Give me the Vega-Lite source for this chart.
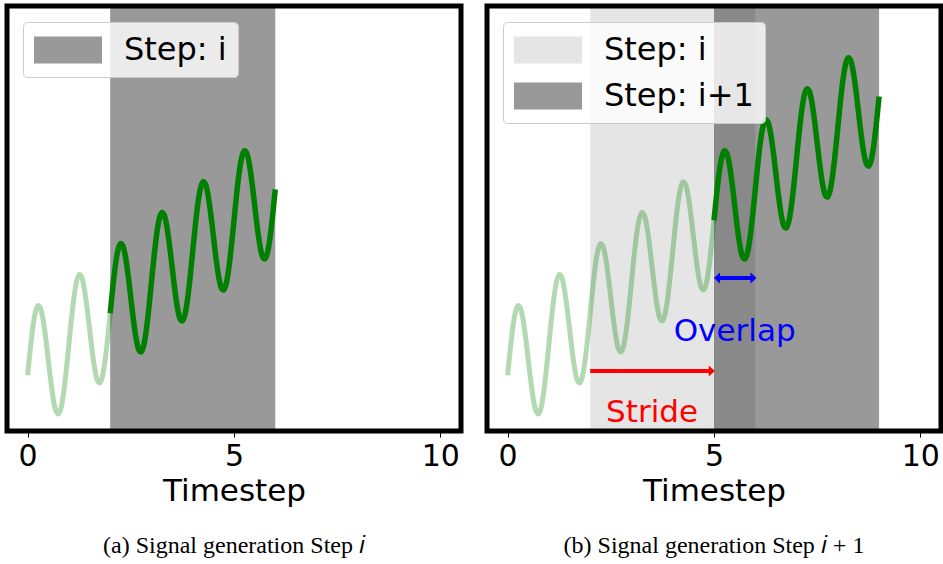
{
  "$schema": "https://vega.github.io/schema/vega-lite/v6.json",
  "background": "white",
  "padding": {"left": 4, "top": 3, "right": 0, "bottom": 0},
  "spacing": 20,
  "datasets": {
    "sig": [
      {"t":0,"y":0},{"t":0.0625,"y":0.414},{"t":0.125,"y":0.770},{"t":0.1875,"y":1.018},{"t":0.25,"y":1.125},{"t":0.3125,"y":1.080},{"t":0.375,"y":0.895},{"t":0.4375,"y":0.601},{"t":0.5,"y":0.25},{"t":0.5625,"y":-0.101},{"t":0.625,"y":-0.395},{"t":0.6875,"y":-0.580},{"t":0.75,"y":-0.625},{"t":0.8125,"y":-0.518},{"t":0.875,"y":-0.270},{"t":0.9375,"y":0.086},
      {"t":1,"y":0.5},{"t":1.0625,"y":0.914},{"t":1.125,"y":1.270},{"t":1.1875,"y":1.518},{"t":1.25,"y":1.625},{"t":1.3125,"y":1.580},{"t":1.375,"y":1.395},{"t":1.4375,"y":1.101},{"t":1.5,"y":0.75},{"t":1.5625,"y":0.399},{"t":1.625,"y":0.105},{"t":1.6875,"y":-0.080},{"t":1.75,"y":-0.125},{"t":1.8125,"y":-0.018},{"t":1.875,"y":0.230},{"t":1.9375,"y":0.586},
      {"t":2,"y":1},{"t":2.0625,"y":1.414},{"t":2.125,"y":1.770},{"t":2.1875,"y":2.018},{"t":2.25,"y":2.125},{"t":2.3125,"y":2.080},{"t":2.375,"y":1.895},{"t":2.4375,"y":1.601},{"t":2.5,"y":1.25},{"t":2.5625,"y":0.899},{"t":2.625,"y":0.605},{"t":2.6875,"y":0.420},{"t":2.75,"y":0.375},{"t":2.8125,"y":0.482},{"t":2.875,"y":0.730},{"t":2.9375,"y":1.086},
      {"t":3,"y":1.5},{"t":3.0625,"y":1.914},{"t":3.125,"y":2.270},{"t":3.1875,"y":2.518},{"t":3.25,"y":2.625},{"t":3.3125,"y":2.580},{"t":3.375,"y":2.395},{"t":3.4375,"y":2.101},{"t":3.5,"y":1.75},{"t":3.5625,"y":1.399},{"t":3.625,"y":1.105},{"t":3.6875,"y":0.920},{"t":3.75,"y":0.875},{"t":3.8125,"y":0.982},{"t":3.875,"y":1.230},{"t":3.9375,"y":1.586},
      {"t":4,"y":2},{"t":4.0625,"y":2.414},{"t":4.125,"y":2.770},{"t":4.1875,"y":3.018},{"t":4.25,"y":3.125},{"t":4.3125,"y":3.080},{"t":4.375,"y":2.895},{"t":4.4375,"y":2.601},{"t":4.5,"y":2.25},{"t":4.5625,"y":1.899},{"t":4.625,"y":1.605},{"t":4.6875,"y":1.420},{"t":4.75,"y":1.375},{"t":4.8125,"y":1.482},{"t":4.875,"y":1.730},{"t":4.9375,"y":2.086},
      {"t":5,"y":2.5},{"t":5.0625,"y":2.914},{"t":5.125,"y":3.270},{"t":5.1875,"y":3.518},{"t":5.25,"y":3.625},{"t":5.3125,"y":3.580},{"t":5.375,"y":3.395},{"t":5.4375,"y":3.101},{"t":5.5,"y":2.75},{"t":5.5625,"y":2.399},{"t":5.625,"y":2.105},{"t":5.6875,"y":1.920},{"t":5.75,"y":1.875},{"t":5.8125,"y":1.982},{"t":5.875,"y":2.230},{"t":5.9375,"y":2.586},
      {"t":6,"y":3},{"t":6.0625,"y":3.414},{"t":6.125,"y":3.770},{"t":6.1875,"y":4.018},{"t":6.25,"y":4.125},{"t":6.3125,"y":4.080},{"t":6.375,"y":3.895},{"t":6.4375,"y":3.601},{"t":6.5,"y":3.25},{"t":6.5625,"y":2.899},{"t":6.625,"y":2.605},{"t":6.6875,"y":2.420},{"t":6.75,"y":2.375},{"t":6.8125,"y":2.482},{"t":6.875,"y":2.730},{"t":6.9375,"y":3.086},
      {"t":7,"y":3.5},{"t":7.0625,"y":3.914},{"t":7.125,"y":4.270},{"t":7.1875,"y":4.518},{"t":7.25,"y":4.625},{"t":7.3125,"y":4.580},{"t":7.375,"y":4.395},{"t":7.4375,"y":4.101},{"t":7.5,"y":3.75},{"t":7.5625,"y":3.399},{"t":7.625,"y":3.105},{"t":7.6875,"y":2.920},{"t":7.75,"y":2.875},{"t":7.8125,"y":2.982},{"t":7.875,"y":3.230},{"t":7.9375,"y":3.586},
      {"t":8,"y":4},{"t":8.0625,"y":4.414},{"t":8.125,"y":4.770},{"t":8.1875,"y":5.018},{"t":8.25,"y":5.125},{"t":8.3125,"y":5.080},{"t":8.375,"y":4.895},{"t":8.4375,"y":4.601},{"t":8.5,"y":4.25},{"t":8.5625,"y":3.899},{"t":8.625,"y":3.605},{"t":8.6875,"y":3.420},{"t":8.75,"y":3.375},{"t":8.8125,"y":3.482},{"t":8.875,"y":3.730},{"t":8.9375,"y":4.086},
      {"t":9,"y":4.5}
    ]
  },
  "config": {
    "view": {"stroke": "black", "strokeWidth": 5},
    "axisX": {
      "labelFont": "DejaVu Sans", "labelFontSize": 30, "labelColor": "black", "labelPadding": 4,
      "labelFlush": false, "labelOverlap": false, "labelBound": false,
      "tickSize": 6, "tickColor": "black", "tickWidth": 1,
      "domain": false, "grid": false,
      "titleFont": "DejaVu Sans", "titleFontSize": 31, "titleFontWeight": "normal", "titleColor": "black", "titlePadding": 5
    },
    "legend": {
      "orient": "top-left", "offset": 16, "padding": 11,
      "fillColor": "rgba(255,255,255,0.8)", "strokeColor": "#cccccc", "cornerRadius": 4,
      "labelFont": "DejaVu Sans", "labelFontSize": 32, "labelColor": "black", "labelOffset": 56,
      "symbolSize": 1156, "symbolStrokeWidth": 0, "rowPadding": 13, "labelLimit": 400
    },
    "title": {"font": "Liberation Serif", "fontSize": 24, "fontWeight": "normal", "color": "black", "orient": "bottom", "anchor": "middle", "offset": 28}
  },
  "resolve": {"scale": {"color": "independent"}, "legend": {"color": "independent"}},
  "hconcat": [
    {
      "width": 454, "height": 425,
      "title": {"text": "(a) Signal generation Step 𝑖"},
      "layer": [
        {
          "data": {"values": [{"x": 2, "x2": 6, "step": "Step: i"}]},
          "mark": {"type": "rect"},
          "encoding": {
            "x": {"field": "x", "type": "quantitative", "scale": {"domain": [-0.5, 10.5], "nice": false, "zero": false}, "title": "Timestep", "axis": {"values": [0, 5, 10], "format": "d"}},
            "x2": {"field": "x2"},
            "color": {"field": "step", "type": "nominal", "scale": {"domain": ["Step: i"], "range": ["rgba(0,0,0,0.4)"]}, "legend": {"title": null, "symbolType": "M-1,-0.8H3V0.8H-1Z"}}
          }
        },
        {
          "data": {"name": "sig"},
          "transform": [{"filter": {"field": "t", "range": [0, 2]}}],
          "mark": {"type": "line", "color": "#008000", "opacity": 0.3, "strokeWidth": 5, "interpolate": "monotone", "strokeCap": "butt"},
          "encoding": {
            "x": {"field": "t", "type": "quantitative"},
            "y": {"field": "y", "type": "quantitative", "scale": {"domain": [-0.9, 5.96], "nice": false, "zero": false}, "axis": null}
          }
        },
        {
          "data": {"name": "sig"},
          "transform": [{"filter": {"field": "t", "range": [2, 6]}}],
          "mark": {"type": "line", "color": "#008000", "strokeWidth": 5.5, "interpolate": "monotone", "strokeCap": "butt"},
          "encoding": {
            "x": {"field": "t", "type": "quantitative"},
            "y": {"field": "y", "type": "quantitative", "axis": null}
          }
        }
      ]
    },
    {
      "width": 454, "height": 425,
      "title": {"text": "(b) Signal generation Step 𝑖 + 1"},
      "layer": [
        {
          "data": {"values": [{"x": 2, "x2": 6, "step": "Step: i"}, {"x": 5, "x2": 9, "step": "Step: i+1"}]},
          "mark": {"type": "rect"},
          "encoding": {
            "x": {"field": "x", "type": "quantitative", "scale": {"domain": [-0.5, 10.5], "nice": false, "zero": false}, "title": "Timestep", "axis": {"values": [0, 5, 10], "format": "d"}},
            "x2": {"field": "x2"},
            "color": {"field": "step", "type": "nominal", "scale": {"domain": ["Step: i", "Step: i+1"], "range": ["rgba(0,0,0,0.1)", "rgba(0,0,0,0.4)"]}, "legend": {"title": null, "symbolType": "M-1,-0.8H3V0.8H-1Z"}}
          }
        },
        {
          "data": {"name": "sig"},
          "transform": [{"filter": {"field": "t", "range": [0, 5]}}],
          "mark": {"type": "line", "color": "#008000", "opacity": 0.3, "strokeWidth": 5, "interpolate": "monotone", "strokeCap": "butt"},
          "encoding": {
            "x": {"field": "t", "type": "quantitative"},
            "y": {"field": "y", "type": "quantitative", "scale": {"domain": [-0.9, 5.96], "nice": false, "zero": false}, "axis": null}
          }
        },
        {
          "data": {"name": "sig"},
          "transform": [{"filter": {"field": "t", "range": [5, 9]}}],
          "mark": {"type": "line", "color": "#008000", "strokeWidth": 5.5, "interpolate": "monotone", "strokeCap": "butt"},
          "encoding": {
            "x": {"field": "t", "type": "quantitative"},
            "y": {"field": "y", "type": "quantitative", "axis": null}
          }
        },
        {
          "data": {"values": [{"x": 2, "x2": 4.9, "y": 0.07}]},
          "mark": {"type": "rule", "color": "red", "strokeWidth": 4},
          "encoding": {
            "x": {"field": "x", "type": "quantitative"},
            "x2": {"field": "x2"},
            "y": {"field": "y", "type": "quantitative", "axis": null}
          }
        },
        {
          "data": {"values": [{"x": 5.02, "y": 0.07}]},
          "mark": {"type": "point", "shape": "M0,0L-0.55,-0.5L-0.55,0.5Z", "filled": true, "size": 484, "color": "red", "opacity": 1, "strokeWidth": 0},
          "encoding": {
            "x": {"field": "x", "type": "quantitative"},
            "y": {"field": "y", "type": "quantitative", "axis": null}
          }
        },
        {
          "data": {"values": [{"x": 5.1, "x2": 5.93, "y": 1.57}]},
          "mark": {"type": "rule", "color": "blue", "strokeWidth": 4},
          "encoding": {
            "x": {"field": "x", "type": "quantitative"},
            "x2": {"field": "x2"},
            "y": {"field": "y", "type": "quantitative", "axis": null}
          }
        },
        {
          "data": {"values": [{"x": 6.03, "y": 1.57}]},
          "mark": {"type": "point", "shape": "M0,0L-0.55,-0.5L-0.55,0.5Z", "filled": true, "size": 484, "color": "blue", "opacity": 1, "strokeWidth": 0},
          "encoding": {
            "x": {"field": "x", "type": "quantitative"},
            "y": {"field": "y", "type": "quantitative", "axis": null}
          }
        },
        {
          "data": {"values": [{"x": 5.0, "y": 1.57}]},
          "mark": {"type": "point", "shape": "M0,0L0.55,-0.5L0.55,0.5Z", "filled": true, "size": 484, "color": "blue", "opacity": 1, "strokeWidth": 0},
          "encoding": {
            "x": {"field": "x", "type": "quantitative"},
            "y": {"field": "y", "type": "quantitative", "axis": null}
          }
        },
        {
          "data": {"values": [{"x": 5.5, "y": 0.56, "label": "Overlap"}]},
          "mark": {"type": "text", "font": "DejaVu Sans", "fontSize": 31, "color": "blue", "align": "center", "baseline": "alphabetic"},
          "encoding": {
            "x": {"field": "x", "type": "quantitative"},
            "y": {"field": "y", "type": "quantitative", "axis": null},
            "text": {"field": "label"}
          }
        },
        {
          "data": {"values": [{"x": 3.5, "y": -0.76, "label": "Stride"}]},
          "mark": {"type": "text", "font": "DejaVu Sans", "fontSize": 31, "color": "red", "align": "center", "baseline": "alphabetic"},
          "encoding": {
            "x": {"field": "x", "type": "quantitative"},
            "y": {"field": "y", "type": "quantitative", "axis": null},
            "text": {"field": "label"}
          }
        }
      ]
    }
  ]
}
